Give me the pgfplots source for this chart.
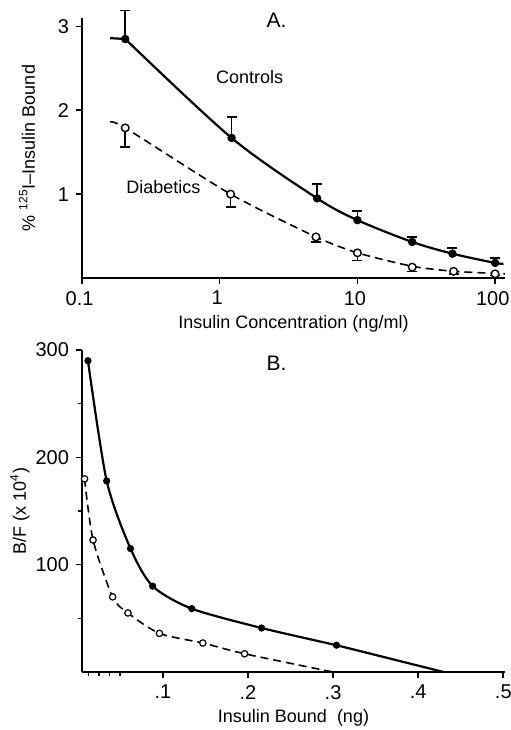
\documentclass[border=0pt]{standalone}
\usepackage{fontspec}
\setmainfont{Liberation Sans}
\usepackage{pgfplots}
\pgfplotsset{compat=1.18}
\begin{document}
\begin{tikzpicture}
\path[use as bounding box] (0pt,0pt) rectangle (255pt,-365pt);
\pgfplotsset{
  every axis/.append style={
    scale only axis, axis lines=left, axis line style={line width=1.1pt, -},
    tick style={line width=0.8pt, black}, tick align=outside,
    major tick length=3pt,
    tick label style={font=\fontsize{10}{12}\selectfont},
    label style={font=\fontsize{9}{11}\selectfont},
    /pgf/number format/assume math mode=true,
  },
  ctrl/.style={black, line width=1.1pt},
  diab/.style={black, line width=0.8pt, dash pattern=on 4pt off 2.5pt},
}
% ---------- panel A ----------
\begin{axis}[
  at={(41pt,-139pt)}, anchor=south west,
  width=211.5pt, height=130pt,
  xmode=log, xmin=0.1, xmax=118, ymin=0, ymax=3.1,
  xtick={0.1,1,10,100}, xticklabels={0.1,1,10,100},
  xticklabel style={xshift=-1.2pt},
  xminorticks=false,
  ytick={1,2,3}, yticklabels={1,2,3},
  xlabel={Insulin Concentration (ng/ml)},
  ylabel={\% \textsuperscript{125}I--Insulin Bound},
  xlabel style={yshift=2pt},
  ylabel style={at={(axis description cs:-0.13,0.5)}, anchor=center},
  clip=false,
]
\addplot[ctrl] coordinates {(0.16,2.86)(0.206,2.85)};
\addplot[ctrl, smooth, tension=0.5] coordinates {
  (0.206,2.85)(1.22,1.67)(5.1,0.95)(10,0.69)(25,0.43)(49,0.29)(100,0.18)(115,0.17)};
\addplot[diab, smooth, tension=0.4] coordinates {
  (0.16,1.86)(0.206,1.79)(1.2,1.0)(5,0.49)(10,0.30)(25,0.14)(50,0.08)(100,0.055)(118,0.05)};
\addplot[only marks, mark=*, mark size=1.9pt, black,
  error bars/.cd, y dir=plus, y explicit, error mark options={rotate=90, mark size=2.5pt, line width=0.8pt},
  error bar style={line width=0.8pt}]
  coordinates {
  (0.206,2.85) +- (0,0.34)
  (1.22,1.67) +- (0,0.25)
  (5.1,0.95) +- (0,0.17)
  (10,0.69) +- (0,0.11)
  (25,0.43) +- (0,0.06)
  (49,0.29) +- (0,0.07)
  (100,0.18) +- (0,0.06)};
\addplot[only marks, mark=*, mark size=1.9pt, mark options={fill=white, line width=0.7pt}, black,
  error bars/.cd, y dir=minus, y explicit, error mark options={rotate=90, mark size=2.5pt, line width=0.8pt},
  error bar style={line width=0.8pt}]
  coordinates {
  (0.206,1.79) +- (0,0.23)
  (1.2,1.0) +- (0,0.15)
  (5,0.49) +- (0,0.06)
  (10,0.30) +- (0,0.09)
  (25,0.13) +- (0,0.05)
  (50,0.08) +- (0,0.03)
  (100,0.05) +- (0,0.02)};
\node[font=\fontsize{10.5}{12}\selectfont] at (rel axis cs:0.46,0.99) {A.};
\node[font=\fontsize{9}{11}\selectfont] at (axis cs:1.65,2.4) {Controls};
\node[font=\fontsize{9}{11}\selectfont] at (axis cs:0.39,1.09) {Diabetics};
\end{axis}
% ---------- panel B ----------
\begin{axis}[
  at={(41pt,-336pt)}, anchor=south west,
  width=211.5pt, height=161pt,
  xmin=0.005, xmax=0.502, ymin=0, ymax=300,
  xtick={0.1,0.2,0.3,0.4,0.5}, xticklabels={.1,.2,.3,.4,.5},
  minor xtick={0.0125,0.025,0.0375,0.05},
  ytick={100,200,300}, minor ytick={50,150,250},
  minor tick length=2pt,
  xlabel={Insulin Bound\ \ (ng)},
  ylabel={B/F (x 10\textsuperscript{4})},
  xlabel style={yshift=2pt},
  ylabel style={at={(axis description cs:-0.147,0.5)}, anchor=center},
  clip=false,
]
\addplot[ctrl, smooth, tension=0.45] coordinates {
  (0.012,290)(0.034,178)(0.062,115)(0.088,80)(0.134,59)(0.216,41)(0.304,25)};
\addplot[ctrl] coordinates {(0.304,25)(0.43,0)};
\addplot[diab, smooth, tension=0.45] coordinates {
  (0.008,180)(0.018,123)(0.041,70)(0.059,55)(0.096,36)(0.147,27)(0.196,17)(0.30,0)};
\addplot[only marks, mark=*, mark size=1.6pt, black] coordinates {
  (0.012,290)(0.034,178)(0.062,115)(0.088,80)(0.134,59)(0.216,41)(0.304,25)};
\addplot[only marks, mark=*, mark size=1.6pt, mark options={fill=white, line width=0.6pt}, black] coordinates {
  (0.008,180)(0.018,123)(0.041,70)(0.059,55)(0.096,36)(0.147,27)(0.196,17)};
\node[font=\fontsize{10.5}{12}\selectfont] at (rel axis cs:0.46,0.96) {B.};
\end{axis}
\end{tikzpicture}
\end{document}
